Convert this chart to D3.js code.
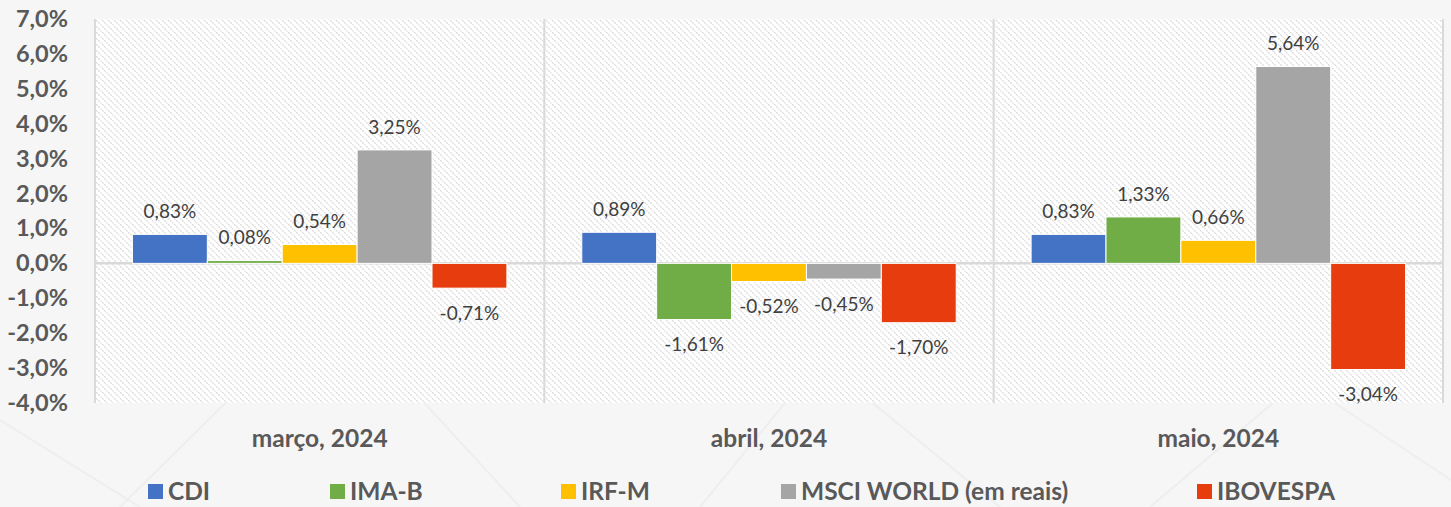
<!DOCTYPE html>
<html><head><meta charset="utf-8">
<script src="https://cdn.jsdelivr.net/npm/d3@7"></script>
<style>html,body{margin:0;padding:0;background:#f6f6f6;}svg{display:block;}</style>
</head><body>
<svg id="chart" width="1451" height="507"></svg>
<script>
const categories = ["março, 2024", "abril, 2024", "maio, 2024"];
const seriesNames = ["CDI", "IMA-B", "IRF-M", "MSCI WORLD (em reais)", "IBOVESPA"];
const seriesColors = ["#4472C4", "#70AD47", "#FFC000", "#A5A5A5", "#E63C0E"];
const cdi = [0.83, 0.89, 0.83];
const imab = [0.08, -1.61, 1.33];
const irfm = [0.54, -0.52, 0.66];
const msci = [3.25, -0.45, 5.64];
const ibov = [-0.71, -1.70, -3.04];
const yTicks = [-4, -3, -2, -1, 0, 1, 2, 3, 4, 5, 6, 7];
const seriesValues = [cdi, imab, irfm, msci, ibov];

const fmt = v => v.toFixed(2).replace(".", ",") + "%";
const fmtTick = v => v.toFixed(1).replace(".", ",") + "%";
const FONT = "Lato, 'Open Sans', sans-serif";

const svg = d3.select("#chart");
const W = 1451, H = 507;
const m = {left: 95, right: 8, top: 19, bottom: 104};
const pw = W - m.left - m.right, ph = H - m.top - m.bottom;

// background decorative faint lines
const bg = svg.append("g");
bg.append("rect").attr("width", W).attr("height", H).attr("fill", "#f6f6f6");
const deco = [[120,507,330,300],[330,300,520,507],[700,507,820,360],[820,360,1000,507],[1150,507,1300,380],[1300,380,1451,480],[0,420,140,507]];
bg.selectAll("line").data(deco).join("line")
  .attr("x1", d=>d[0]).attr("y1", d=>d[1]).attr("x2", d=>d[2]).attr("y2", d=>d[3])
  .attr("stroke", "#eeeeee").attr("stroke-width", 2);

const defs = svg.append("defs");
const pat = defs.append("pattern").attr("id", "hatch").attr("patternUnits", "userSpaceOnUse")
  .attr("width", 6).attr("height", 6);
pat.append("rect").attr("width", 6).attr("height", 6).attr("fill", "#ffffff");
pat.append("path").attr("d", "M-1,-1 L7,7 M-1,5 L1,7 M5,-1 L7,1")
  .attr("stroke", "#d9d9d9").attr("stroke-width", 1.2).attr("stroke-dasharray", "2,1");

const g = svg.append("g").attr("transform", `translate(${m.left},${m.top})`);

const x0 = d3.scaleBand().domain(categories).range([0, pw]).paddingInner(0).paddingOuter(0);
const x1 = d3.scaleBand().domain(seriesNames).range([0, x0.bandwidth()]).paddingOuter(0.5).paddingInner(0);
const y = d3.scaleLinear().domain([-4, 7]).range([ph, 0]);

g.append("rect").attr("width", pw).attr("height", ph).attr("fill", "url(#hatch)");

// vertical separators
g.selectAll(".sep").data(d3.range(categories.length + 1)).join("line")
  .attr("x1", i => i * x0.step()).attr("x2", i => i * x0.step())
  .attr("y1", 0).attr("y2", ph).attr("stroke", "#d9d9d9").attr("stroke-width", 2);

// zero line
g.append("line").attr("x1", 0).attr("x2", pw).attr("y1", y(0)).attr("y2", y(0))
  .attr("stroke", "#d9d9d9").attr("stroke-width", 2.5);

// y axis
const yAxis = g.append("g").call(d3.axisLeft(y).tickValues(yTicks).tickFormat(fmtTick).tickSize(0).tickPadding(27));
yAxis.select(".domain").remove();
yAxis.selectAll("text").attr("font-family", FONT).attr("font-weight", "bold")
  .attr("font-size", 23.5).attr("fill", "#595959");

// bars
const data = [];
categories.forEach((c, ci) => seriesNames.forEach((s, si) => data.push({c, s, si, v: seriesValues[si][ci]})));
g.append("g").selectAll("rect").data(data).join("rect")
  .attr("x", d => x0(d.c) + x1(d.s))
  .attr("width", x1.bandwidth())
  .attr("y", d => y(Math.max(0, d.v)))
  .attr("height", d => Math.abs(y(d.v) - y(0)))
  .attr("fill", d => seriesColors[d.si])
  .attr("stroke", "#ffffff").attr("stroke-width", 1);

g.append("g").selectAll("text").data(data).join("text")
  .attr("x", d => x0(d.c) + x1(d.s) + x1.bandwidth() / 2)
  .attr("y", d => d.v >= 0 ? y(d.v) - 23 : y(d.v) + 25)
  .attr("dy", "0.35em")
  .attr("text-anchor", "middle")
  .attr("font-family", FONT).attr("font-size", 19).attr("fill", "#404040")
  .text(d => fmt(d.v));

// category labels
g.append("g").selectAll("text").data(categories).join("text")
  .attr("x", d => x0(d) + x0.bandwidth() / 2).attr("y", 438 - m.top).attr("dy", "0.35em")
  .attr("text-anchor", "middle")
  .attr("font-family", FONT).attr("font-weight", "bold").attr("font-size", 24.5)
  .attr("fill", "#595959").text(d => d);

// legend
const legendX = [148, 330, 561, 781, 1197];
const leg = svg.append("g").selectAll("g").data(seriesNames).join("g")
  .attr("transform", (d, i) => `translate(${legendX[i]},${491.5})`);
leg.append("rect").attr("x", 0).attr("y", -7.5).attr("width", 15).attr("height", 15)
  .attr("fill", (d, i) => seriesColors[i]);
leg.append("text").attr("x", 20).attr("y", 0).attr("dy", "0.35em")
  .attr("font-family", FONT).attr("font-weight", "bold").attr("font-size", 24.5)
  .attr("fill", "#595959").text(d => d);
</script>
</body></html>
